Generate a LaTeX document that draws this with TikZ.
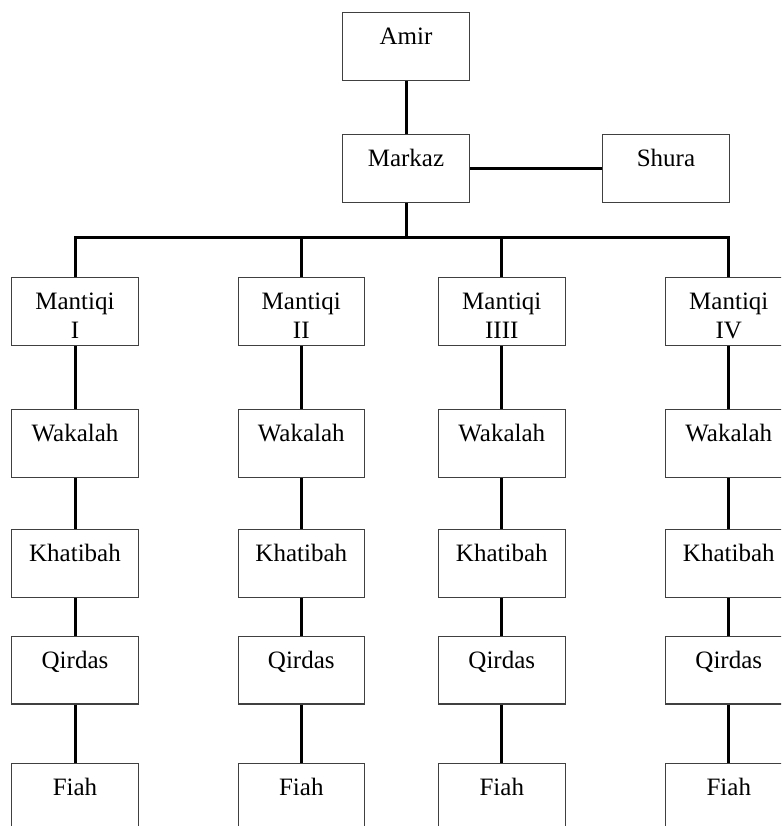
\documentclass[tikz,border=0pt]{standalone}
\usepackage{fontspec}
\setmainfont{Liberation Serif}
\begin{document}
\begin{tikzpicture}[x=1pt,y=-1pt,
  box/.style={draw=black!75, line width=1.1pt, inner sep=0pt, anchor=north,
    minimum width=126.5pt, text width=126.5pt, align=center,
    text height=32pt, text depth=35.7pt, font=\fontsize{25}{29}\selectfont},
  link/.style={line width=3pt, line join=miter}]
\useasboundingbox (0,0) rectangle (781,826);
\clip (0,0) rectangle (781,826);
\node[box] (amir) at (406,12.3) {Amir};
\node[box] (markaz) at (406,134) {Markaz};
\node[box] (shura) at (666,134) {Shura};
\draw[link] (amir) -- (markaz);
\draw[link] (markaz) -- (shura);
\coordinate (bus) at (0,237.3);
\foreach \c/\x/\r in {1/75/I, 2/301.3/II, 3/501.8/IIII, 4/728.8/IV}{
  \node[box] (m\c) at (\x,277.3) {Mantiqi\\\r};
  \node[box] (w\c) at (\x,409.3) {Wakalah};
  \node[box] (k\c) at (\x,529.3) {Khatibah};
  \node[box] (q\c) at (\x,635.7) {Qirdas};
  \node[box] (f\c) at (\x,763.3) {Fiah};
  \draw[link] (m\c) -- (w\c);
  \draw[link] (w\c) -- (k\c);
  \draw[link] (k\c) -- (q\c);
  \draw[link] (q\c) -- (f\c);
}
\draw[link] (markaz.south) -- (markaz.south |- bus);
\draw[link] (m1.north) -- (m1.north |- bus) -- (m4.north |- bus) -- (m4.north);
\draw[link] (m2.north) -- (m2.north |- bus);
\draw[link] (m3.north) -- (m3.north |- bus);
\end{tikzpicture}
\end{document}
